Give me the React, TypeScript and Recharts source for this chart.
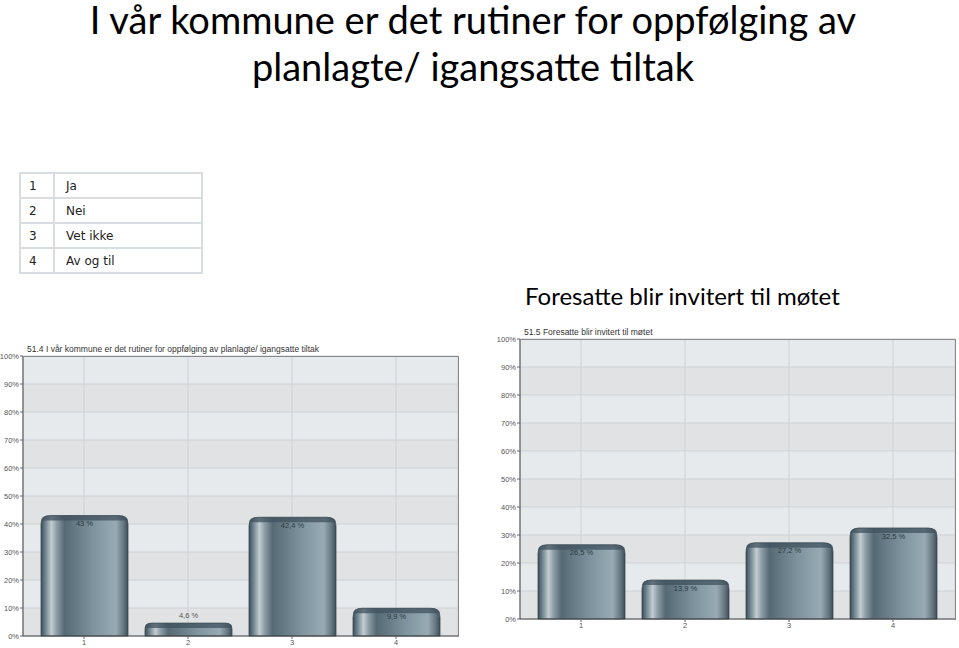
import { Bar, BarChart, CartesianGrid, LabelList, XAxis, YAxis } from "recharts";

const categories = ["1", "2", "3", "4"];
const rutinerValues = [43, 4.6, 42.4, 9.9];
const foresatteValues = [26.5, 13.9, 27.2, 32.5];
const yTicks = [0, 10, 20, 30, 40, 50, 60, 70, 80, 90, 100];
const legendCodes = ["1", "2", "3", "4"];
const legendLabels = ["Ja", "Nei", "Vet ikke", "Av og til"];

const CHART_FONT = "'Liberation Sans', Arial, sans-serif";
const SLIDE_FONT = "Lato, 'Open Sans', sans-serif";
const TICK = { fontSize: 7.5, fill: "#555", fontFamily: CHART_FONT };

const pct = (v: number) => `${v}%`;
const fmt = (v: number) => `${String(v).replace(".", ",")} %`;

function CylinderBar(props: any) {
  const { x, y, width, height, gid } = props;
  if (!height || height <= 0) return null;
  const r = Math.min(9, height / 2, width / 2);
  const b = y + height;
  const d = `M${x},${b} L${x},${y + r} Q${x},${y} ${x + r},${y} L${x + width - r},${y} Q${x + width},${y} ${x + width},${y + r} L${x + width},${b} Z`;
  const ch = Math.min(5, height);
  const cap = `M${x},${y + ch} L${x},${y + r * 0.6} Q${x},${y} ${x + r},${y} L${x + width - r},${y} Q${x + width},${y} ${x + width},${y + r * 0.6} L${x + width},${y + ch} Z`;
  return (
    <g>
      <path d={d} fill={`url(#${gid}-body)`} stroke="#3b4a53" strokeWidth={0.8} />
      <path d={cap} fill="#3f525d" opacity={0.75} />
    </g>
  );
}

function ValueLabel(props: any) {
  const { x, y, width, height, value } = props;
  const above = height < 16;
  return (
    <text
      x={x + width / 2}
      y={above ? y - 5 : y + 10.5}
      textAnchor="middle"
      fontSize={7.5}
      fontFamily={CHART_FONT}
      fill={above ? "#555" : "#2c3a42"}
    >
      {fmt(value)}
    </text>
  );
}

function Gradients({ id }: { id: string }) {
  return (
    <defs>
      <linearGradient id={`${id}-body`} x1="0" y1="0" x2="1" y2="0">
        <stop offset="0%" stopColor="#3c4d57" />
        <stop offset="5%" stopColor="#6f838e" />
        <stop offset="12%" stopColor="#c3ccd1" />
        <stop offset="18%" stopColor="#8c9da6" />
        <stop offset="27%" stopColor="#566a75" />
        <stop offset="60%" stopColor="#7e939e" />
        <stop offset="86%" stopColor="#98abb5" />
        <stop offset="95%" stopColor="#64767f" />
        <stop offset="100%" stopColor="#3c4d57" />
      </linearGradient>
    </defs>
  );
}

type SurveyChartProps = {
  id: string;
  values: number[];
};

// both charts share the same geometry: 40px y-axis, 435x280 plot
function SurveyChart({ id, values }: SurveyChartProps) {
  const data = categories.map((c, i) => ({ name: c, value: values[i] }));
  return (
    <BarChart width={479} height={328} data={data} margin={{ top: 19, right: 4, bottom: 16, left: 0 }} barSize={87}>
      <Gradients id={id} />
      <CartesianGrid stroke="#cdd2d6" horizontalFill={["#e7eaed", "#e1e2e3"]} fillOpacity={1} />
      <XAxis
        dataKey="name"
        tick={TICK}
        height={13}
        padding={{ left: 9, right: 10 }}
        axisLine={{ stroke: "#444" }}
        tickLine={{ stroke: "#666" }}
        tickSize={3}
        tickMargin={1}
      />
      <YAxis
        width={40}
        domain={[0, 100]}
        ticks={yTicks}
        tickFormatter={pct}
        tick={TICK}
        axisLine={{ stroke: "#444" }}
        tickLine={{ stroke: "#666" }}
        tickSize={3}
        tickMargin={1}
      />
      <Bar dataKey="value" isAnimationActive={false} shape={(p: any) => <CylinderBar {...p} gid={id} />}>
        <LabelList dataKey="value" content={(p: any) => <ValueLabel {...p} />} />
      </Bar>
    </BarChart>
  );
}

function ChartPanel({ id, values, title, left, top }: { id: string; values: number[]; title: string; left: number; top: number }) {
  return (
    <div style={{ position: "absolute", left, top, width: 479, height: 328 }}>
      <SurveyChart id={id} values={values} />
      <div style={{ position: "absolute", left: 40, top: 19, width: 436, height: 281, borderTop: "1px solid #888", borderRight: "1px solid #888", pointerEvents: "none", boxSizing: "border-box" }} />
      <div style={{ position: "absolute", left: 44, top: 7, fontFamily: CHART_FONT, fontSize: 8.5, color: "#333", whiteSpace: "nowrap" }}>
        {title}
      </div>
    </div>
  );
}

export default function App() {
  const titleLine = { position: "absolute" as const, left: 0, width: 946, textAlign: "center" as const, fontFamily: SLIDE_FONT, fontSize: 38, lineHeight: "38px", color: "#000", whiteSpace: "nowrap" as const };
  return (
    <div style={{ width: 943, height: 632 }}>
      <div style={{ position: "absolute", left: 0, top: 0, width: 959, height: 648, background: "#fff", overflow: "hidden" }}>
        <div style={{ ...titleLine, top: 0 }}>I vår kommune er det rutiner for oppfølging av</div>
        <div style={{ ...titleLine, top: 47 }}>planlagte/ igangsatte tiltak</div>

        <table
          style={{
            position: "absolute",
            left: 19,
            top: 172,
            borderCollapse: "collapse",
            fontFamily: "'DejaVu Sans', Verdana, sans-serif",
            fontSize: 12,
            color: "#222",
          }}
        >
          <tbody>
            {legendCodes.map((c, i) => (
              <tr key={c} style={{ height: 25 }}>
                <td style={{ border: "2px solid #d8dde2", width: 24, padding: "0 0 0 8px" }}>{c}</td>
                <td style={{ border: "2px solid #d8dde2", width: 135, padding: "0 0 0 11px" }}>{legendLabels[i]}</td>
              </tr>
            ))}
          </tbody>
        </table>

        <div style={{ position: "absolute", left: 525, top: 282, fontFamily: SLIDE_FONT, fontSize: 24, lineHeight: 1.2, color: "#000", whiteSpace: "nowrap" }}>
          Foresatte blir invitert til møtet
        </div>

        <ChartPanel
          id="c1"
          values={rutinerValues}
          title="51.4 I vår kommune er det rutiner for oppfølging av planlagte/ igangsatte tiltak"
          left={-17}
          top={337}
        />
        <ChartPanel id="c2" values={foresatteValues} title="51.5 Foresatte blir invitert til møtet" left={480} top={320} />
      </div>
    </div>
  );
}
